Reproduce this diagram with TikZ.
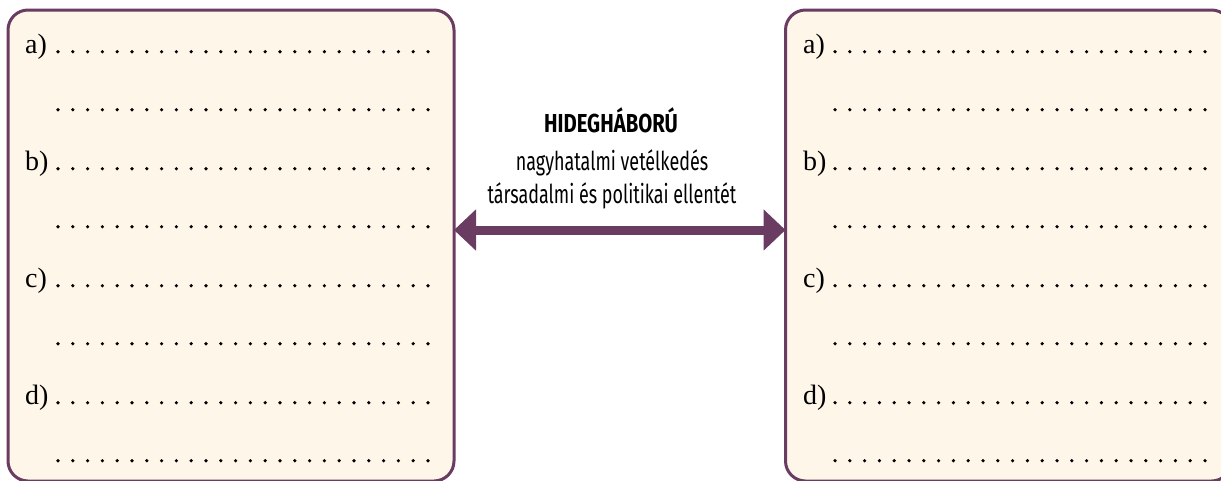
\documentclass[tikz,border=0pt]{standalone}
\usepackage{fontspec}
\usetikzlibrary{arrows.meta}
\newfontfamily\condfont[FakeStretch=0.69]{Fira Sans}
\newfontfamily\condboldfont[FakeStretch=0.78]{Fira Sans Bold}
\newfontfamily\labelfont{Liberation Serif}
\definecolor{boxline}{HTML}{6A3C61}
\definecolor{boxfill}{HTML}{FDF6E9}
\tikzset{
  panel/.style={draw=boxline, line width=3pt, fill=boxfill, rounded corners=20pt,
    rectangle, inner sep=0pt, outer sep=0pt, minimum width=446pt, minimum height=471pt},
  letter/.style={anchor=base west, inner sep=0pt, font=\labelfont\fontsize{28}{32}\selectfont},
  dotfill/.style={fill=black},
  midtext/.style={anchor=base, inner sep=0pt, font=\condfont\fontsize{26}{30}\selectfont},
  midtitle/.style={anchor=base, inner sep=0pt, font=\condboldfont\fontsize{26}{30}\selectfont},
  bigarrow/.style={draw=boxline, line width=9pt, {Triangle[length=22pt,width=40pt]}-{Triangle[length=22pt,width=40pt]}}
}
\begin{document}
\begin{tikzpicture}[x=1pt,y=-1pt]
\useasboundingbox (0,0) rectangle (1221,480);
\node[panel] (L) at (231,245.5) {};
\node[panel] (R) at (1008.5,245.5) {};
% labels and dotted lines
\foreach \lab [count=\i from 0] in {a),b),c),d)} {
  \pgfmathsetmacro{\ya}{53.5+117*\i}
  \pgfmathsetmacro{\yb}{111.5+117*\i}
  \node[letter] (la\i) at (25,\ya) {\lab};
  \node[letter] (ra\i) at (803,\ya) {\lab};
  \foreach \k in {0,...,25} {
    \fill[dotfill] (58+14.8*\k,\ya-1.8) circle (1.8pt);
    \fill[dotfill] (58+14.8*\k,\yb-1.8) circle (1.8pt);
    \fill[dotfill] (835+14.8*\k,\ya-1.8) circle (1.8pt);
    \fill[dotfill] (835+14.8*\k,\yb-1.8) circle (1.8pt);
  }
}
\node[midtitle] (t1) at (611,132) {HIDEGHÁBORÚ};
\node[midtext] (t2) at (612,170) {nagyhatalmi vetélkedés};
\node[midtext] (t3) at (612,203) {társadalmi és politikai ellentét};
\coordinate (mid) at (620,230);
\draw[bigarrow] (L.east |- mid) -- (R.west |- mid);
\end{tikzpicture}
\end{document}
